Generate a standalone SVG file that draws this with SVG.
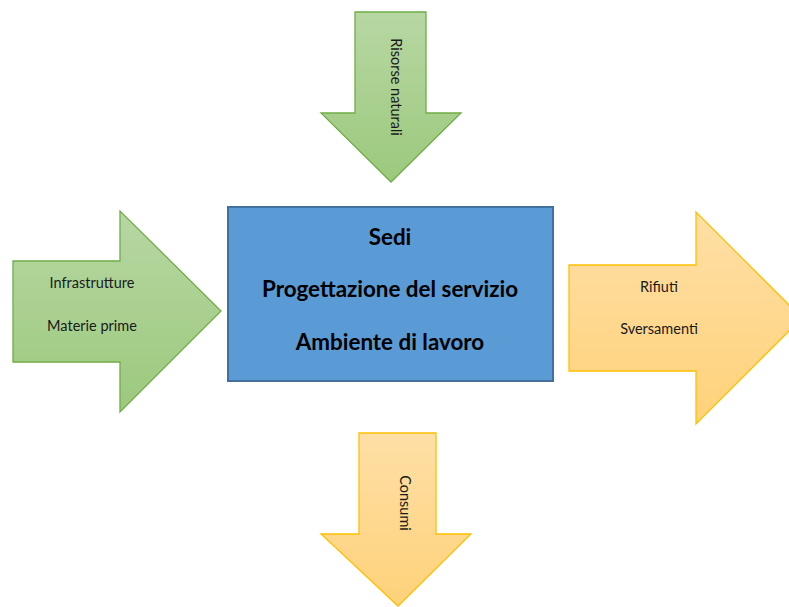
<svg xmlns="http://www.w3.org/2000/svg" width="789" height="607" viewBox="0 0 789 607">
<defs>
<linearGradient id="gG" x1="0" y1="0" x2="0" y2="1"><stop offset="0" stop-color="#b7d7a3"/><stop offset="1" stop-color="#9cc97d"/></linearGradient>
<linearGradient id="gO" x1="0" y1="0" x2="0" y2="1"><stop offset="0" stop-color="#fedfa6"/><stop offset="1" stop-color="#ffd27a"/></linearGradient>
<style>
.g{fill:url(#gG);stroke:#70ad47;stroke-width:1.3}
.o{fill:url(#gO);stroke:#ffc000;stroke-width:1.3}
.box{fill:#5b9bd5;stroke:#41719c;stroke-width:2}
.t{font-family:Lato,"Open Sans","Liberation Sans",sans-serif;font-size:14.5px;fill:#1a1a1a;text-anchor:middle;dominant-baseline:central}
.b{font-family:Lato,"Open Sans","Liberation Sans",sans-serif;font-size:22.4px;font-weight:bold;fill:#000;text-anchor:middle;dominant-baseline:central}
</style>
</defs>
<g id="risorse">
<polygon class="g" points="355,12 426,12 426,113 461,113 391,182 321,113 355,113"/>
<text class="t" transform="translate(396,87) rotate(90)">Risorse naturali</text>
</g>
<g id="input">
<polygon class="g" points="13,261 120,261 120,211 221,311 120,412 120,362 13,362"/>
<text class="t" x="92" y="282">Infrastrutture</text>
<text class="t" x="92" y="325">Materie prime</text>
</g>
<g id="centro">
<rect class="box" x="228" y="207" width="325" height="174"/>
<text class="b" x="390" y="236">Sedi</text>
<text class="b" x="390" y="288">Progettazione del servizio</text>
<text class="b" x="390" y="341">Ambiente di lavoro</text>
</g>
<g id="output">
<polygon class="o" points="569,265 696,265 696,212 802,318 696,424 696,371 569,371"/>
<text class="t" x="659" y="286">Rifiuti</text>
<text class="t" x="659" y="328">Sversamenti</text>
</g>
<g id="consumi">
<polygon class="o" points="359,433 436,433 436,534 471,534 398,606 321,534 359,534"/>
<text class="t" transform="translate(405,503) rotate(90)">Consumi</text>
</g>
<g id="connectors"/>
</svg>
